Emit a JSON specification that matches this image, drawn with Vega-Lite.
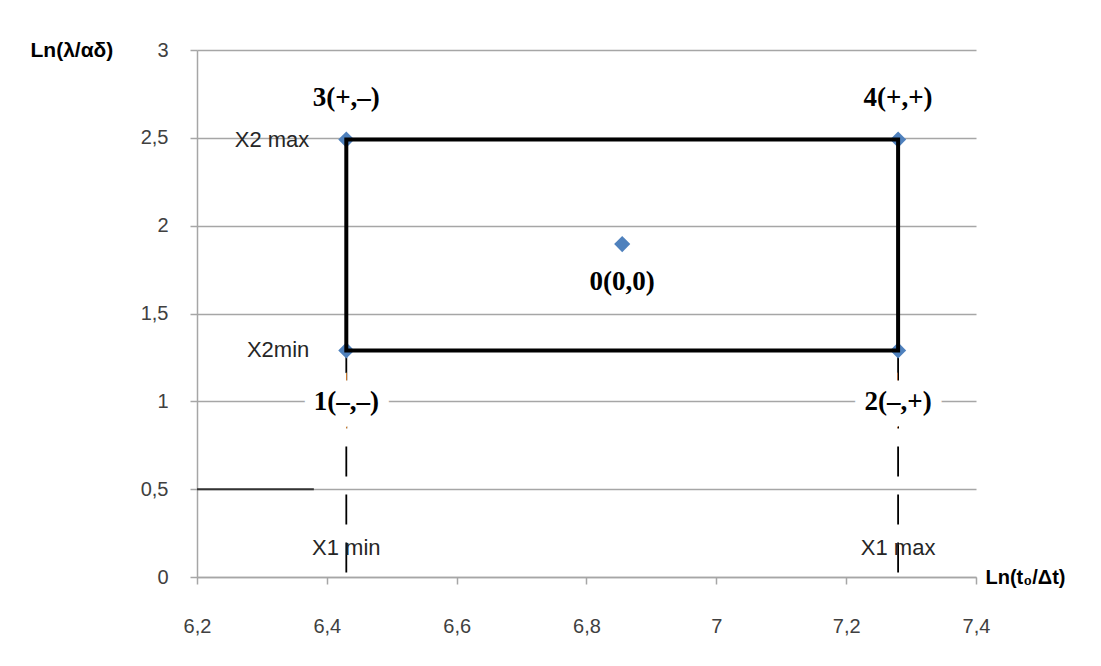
{
  "$schema": "https://vega.github.io/schema/vega-lite/v6.json",
  "width": 779,
  "height": 527,
  "autosize": {"type": "none"},
  "padding": {"left": 197, "top": 50, "right": 125, "bottom": 89},
  "background": "white",
  "config": {"view": {"stroke": null}},
  "datasets": {
    "points": [
      {"id": 0, "x": 6.855, "y": 1.895, "label": "0(0,0)", "xlab": "", "ylab": ""},
      {"id": 1, "x": 6.43, "y": 1.29, "label": "1(–,–)", "xlab": "X1 min", "ylab": "X2min"},
      {"id": 2, "x": 7.28, "y": 1.29, "label": "2(–,+)", "xlab": "X1 max", "ylab": ""},
      {"id": 3, "x": 6.43, "y": 2.49, "label": "3(+,–)", "xlab": "", "ylab": "X2 max"},
      {"id": 4, "x": 7.28, "y": 2.49, "label": "4(+,+)", "xlab": "", "ylab": ""}
    ],
    "box": [
      {"x": 6.43, "y": 1.29, "x2": 7.28, "y2": 2.49}
    ],
    "seg": [
      {"x": 6.2, "x2": 6.38, "y": 0.5}
    ]
  },
  "encoding": {
    "x": {
      "field": "x", "type": "quantitative",
      "scale": {"domain": [6.2, 7.4], "nice": false, "zero": false},
      "axis": {
        "values": [6.2, 6.4, 6.6, 6.8, 7, 7.2, 7.4],
        "format": "~g",
        "labelExpr": "replace(datum.label, '.', ',')",
        "labelFlush": false,
        "grid": false,
        "domainColor": "#a6a6a6", "domainWidth": 1.5,
        "tickColor": "#a6a6a6", "tickWidth": 1.5, "tickSize": 7,
        "labelPadding": 32,
        "labelFont": "Liberation Sans", "labelFontSize": 20, "labelColor": "#404040",
        "title": "Ln(t₀/Δt)",
        "titleAngle": 0, "titleAlign": "left", "titleBaseline": "middle",
        "titleX": 788, "titleY": 0,
        "titleFont": "Liberation Sans", "titleFontSize": 20, "titleFontWeight": "bold", "titleColor": "#000000"
      }
    },
    "y": {
      "field": "y", "type": "quantitative",
      "scale": {"domain": [0, 3], "nice": false, "zero": false},
      "axis": {
        "values": [0, 0.5, 1, 1.5, 2, 2.5, 3],
        "format": "~g",
        "labelExpr": "replace(datum.label, '.', ',')",
        "labelFlush": false,
        "grid": true, "gridColor": "#a6a6a6", "gridWidth": 1.5,
        "domainColor": "#a6a6a6", "domainWidth": 1.5,
        "tickColor": "#a6a6a6", "tickWidth": 1.5, "tickSize": 7,
        "labelPadding": 22,
        "labelFont": "Liberation Sans", "labelFontSize": 20, "labelColor": "#404040",
        "title": "Ln(λ/αδ)",
        "titleAngle": 0, "titleAlign": "left", "titleBaseline": "middle",
        "titleX": -167, "titleY": 0,
        "titleFont": "Liberation Sans", "titleFontSize": 21, "titleFontWeight": "bold", "titleColor": "#000000"
      }
    }
  },
  "layer": [
    {
      "data": {"name": "seg"},
      "mark": {"type": "rule", "color": "#333333", "strokeWidth": 2},
      "encoding": {"x2": {"field": "x2"}}
    },
    {
      "data": {"name": "points"},
      "transform": [{"filter": "datum.id == 1 || datum.id == 2"}],
      "mark": {"type": "rule", "color": "#000000", "strokeWidth": 1.8, "strokeDash": [30, 18]},
      "encoding": {"y2": {"datum": 0}}
    },
    {
      "data": {"name": "points"},
      "mark": {"type": "point", "shape": "diamond", "filled": true, "size": 260, "color": "#4f81bd", "opacity": 1},
      "encoding": {}
    },
    {
      "data": {"name": "box"},
      "mark": {"type": "rect", "filled": false, "stroke": "#000000", "strokeWidth": 4},
      "encoding": {"x2": {"field": "x2"}, "y2": {"field": "y2"}}
    },
    {
      "data": {"name": "points"},
      "transform": [{"filter": "datum.id == 1 || datum.id == 2"}],
      "mark": {"type": "text", "font": "Liberation Serif", "fontWeight": "bold", "fontSize": 27, "dy": 52, "baseline": "middle", "align": "center", "fill": "white", "stroke": "white", "strokeWidth": 22},
      "encoding": {"text": {"field": "label"}}
    },
    {
      "data": {"name": "points"},
      "transform": [{"filter": "datum.id == 1 || datum.id == 2"}],
      "mark": {"type": "text", "font": "Liberation Serif", "fontWeight": "bold", "fontSize": 27, "dy": 52, "baseline": "middle", "align": "center", "color": "#000000"},
      "encoding": {"text": {"field": "label"}}
    },
    {
      "data": {"name": "points"},
      "transform": [{"filter": "datum.id == 3 || datum.id == 4"}],
      "mark": {"type": "text", "font": "Liberation Serif", "fontWeight": "bold", "fontSize": 27, "dy": -42, "baseline": "middle", "align": "center", "color": "#000000"},
      "encoding": {"text": {"field": "label"}}
    },
    {
      "data": {"name": "points"},
      "transform": [{"filter": "datum.id == 0"}],
      "mark": {"type": "text", "font": "Liberation Serif", "fontWeight": "bold", "fontSize": 27, "dy": 38, "baseline": "middle", "align": "center", "color": "#000000"},
      "encoding": {"text": {"field": "label"}}
    },
    {
      "data": {"name": "points"},
      "transform": [{"filter": "datum.xlab != ''"}],
      "mark": {"type": "text", "font": "Liberation Sans", "fontSize": 22, "dy": -29, "baseline": "middle", "align": "center", "color": "#262626"},
      "encoding": {"y": {"datum": 0}, "text": {"field": "xlab"}}
    },
    {
      "data": {"name": "points"},
      "transform": [{"filter": "datum.ylab != ''"}],
      "mark": {"type": "text", "font": "Liberation Sans", "fontSize": 22, "dx": -37, "baseline": "middle", "align": "right", "color": "#262626"},
      "encoding": {"text": {"field": "ylab"}}
    }
  ]
}
